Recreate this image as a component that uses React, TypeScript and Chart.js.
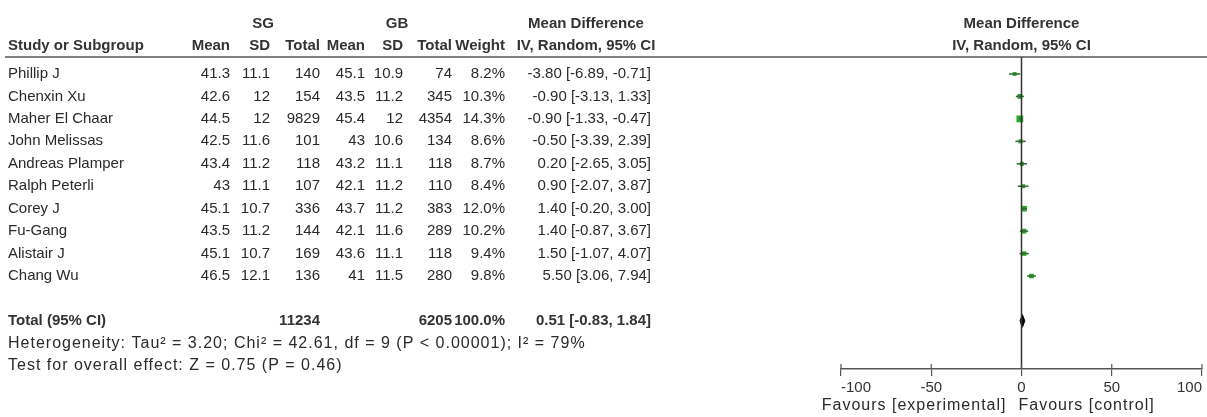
import React, { useEffect, useRef } from "react";
import { Chart, registerables } from "chart.js";

Chart.register(...registerables);

const studies = [
  "Phillip J",
  "Chenxin Xu",
  "Maher El Chaar",
  "John Melissas",
  "Andreas Plamper",
  "Ralph Peterli",
  "Corey J",
  "Fu-Gang",
  "Alistair J",
  "Chang Wu",
];
const sgMean = [41.3, 42.6, 44.5, 42.5, 43.4, 43, 45.1, 43.5, 45.1, 46.5];
const sgSD = [11.1, 12, 12, 11.6, 11.2, 11.1, 10.7, 11.2, 10.7, 12.1];
const sgTotal = [140, 154, 9829, 101, 118, 107, 336, 144, 169, 136];
const gbMean = [45.1, 43.5, 45.4, 43, 43.2, 42.1, 43.7, 42.1, 43.6, 41];
const gbSD = [10.9, 11.2, 12, 10.6, 11.1, 11.2, 11.2, 11.6, 11.1, 11.5];
const gbTotal = [74, 345, 4354, 134, 118, 110, 383, 289, 118, 280];
const weights = [8.2, 10.3, 14.3, 8.6, 8.7, 8.4, 12.0, 10.2, 9.4, 9.8];
const meanDiff = [-3.8, -0.9, -0.9, -0.5, 0.2, 0.9, 1.4, 1.4, 1.5, 5.5];
const ciLow = [-6.89, -3.13, -1.33, -3.39, -2.65, -2.07, -0.2, -0.87, -1.07, 3.06];
const ciHigh = [-0.71, 1.33, -0.47, 2.39, 3.05, 3.87, 3.0, 3.67, 4.07, 7.94];

const totalSG = 11234;
const totalGB = 6205;
const totalWeight = 100.0;
const totalMD = 0.51;
const totalLow = -0.83;
const totalHigh = 1.84;

const heterogeneityText =
  "Heterogeneity: Tau\u00B2 = 3.20; Chi\u00B2 = 42.61, df = 9 (P < 0.00001); I\u00B2 = 79%";
const overallText = "Test for overall effect: Z = 0.75 (P = 0.46)";
const favoursLeft = "Favours [experimental]";
const favoursRight = "Favours [control]";
const xTickValues = [-100, -50, 0, 50, 100];

const FONT = '"Liberation Sans", Arial, sans-serif';
const TEXT = "#2a2a2a";
const ROW_TOP = -0.757;
const ROW_BOTTOM = 13.14;
const TOTAL_ROW = 11;

const fmtCI = (m: number, l: number, h: number) =>
  `${m.toFixed(2)} [${l.toFixed(2)}, ${h.toFixed(2)}]`;

const tablePlugin = {
  id: "forestTable",
  afterDraw(chart: any) {
    const { ctx, chartArea } = chart;
    const ys = chart.scales.y;
    const xs = chart.scales.x;
    const rowY = (r: number) => ys.getPixelForValue(r);
    ctx.save();
    ctx.textBaseline = "middle";
    const put = (
      t: string,
      x: number,
      y: number,
      align: CanvasTextAlign,
      bold = false,
      size = 15,
      spacing = 0
    ) => {
      ctx.font = `${bold ? "bold " : ""}${size}px ${FONT}`;
      ctx.fillStyle = bold ? "#333" : TEXT;
      ctx.textAlign = align;
      (ctx as any).letterSpacing = `${spacing}px`;
      ctx.fillText(t, x, y);
      (ctx as any).letterSpacing = "0px";
    };

    // header line
    ctx.strokeStyle = "#555";
    ctx.lineWidth = 1.5;
    ctx.beginPath();
    ctx.moveTo(5, chartArea.top);
    ctx.lineTo(chart.width, chartArea.top);
    ctx.stroke();

    const cMean1 = 230, cSD1 = 270, cTot1 = 320, cMean2 = 365, cSD2 = 403, cTot2 = 452, cW = 505, cCI = 651, cHdr = 586;

    const h1 = rowY(-2.25);
    const h2 = rowY(-1.27);
    put("SG", 263, h1, "center", true);
    put("GB", 397, h1, "center", true);
    put("Mean Difference", cHdr, h1, "center", true);
    put("Mean Difference", xs.getPixelForValue(0), h1, "center", true);

    put("Study or Subgroup", 8, h2, "left", true);
    put("Mean", cMean1, h2, "right", true);
    put("SD", cSD1, h2, "right", true);
    put("Total", cTot1, h2, "right", true);
    put("Mean", cMean2, h2, "right", true);
    put("SD", cSD2, h2, "right", true);
    put("Total", cTot2, h2, "right", true);
    put("Weight", cW, h2, "right", true);
    put("IV, Random, 95% CI", cHdr, h2, "center", true);
    put("IV, Random, 95% CI", xs.getPixelForValue(0), h2, "center", true);

    studies.forEach((s, i) => {
      const y = rowY(i);
      put(s, 8, y, "left");
      put(String(sgMean[i]), cMean1, y, "right");
      put(String(sgSD[i]), cSD1, y, "right");
      put(String(sgTotal[i]), cTot1, y, "right");
      put(String(gbMean[i]), cMean2, y, "right");
      put(String(gbSD[i]), cSD2, y, "right");
      put(String(gbTotal[i]), cTot2, y, "right");
      put(weights[i].toFixed(1) + "%", cW, y, "right");
      put(fmtCI(meanDiff[i], ciLow[i], ciHigh[i]), cCI, y, "right");
    });

    const ty = rowY(TOTAL_ROW);
    put("Total (95% CI)", 8, ty, "left", true);
    put(String(totalSG), cTot1, ty, "right", true);
    put(String(totalGB), cTot2, ty, "right", true);
    put(totalWeight.toFixed(1) + "%", cW, ty, "right", true);
    put(fmtCI(totalMD, totalLow, totalHigh), cCI, ty, "right", true);
    put(heterogeneityText, 8, rowY(TOTAL_ROW + 1), "left", false, 16, 1.0);
    put(overallText, 8, rowY(TOTAL_ROW + 2), "left", false, 16, 1.0);

    // upper halves of axis ticks
    ctx.strokeStyle = "#555";
    ctx.lineWidth = 1.2;
    xs.ticks.forEach((t: any) => {
      const px = xs.getPixelForValue(t.value);
      ctx.beginPath();
      ctx.moveTo(px, chartArea.bottom - 5);
      ctx.lineTo(px, chartArea.bottom);
      ctx.stroke();
    });

    const zx = xs.getPixelForValue(0);
    put(favoursLeft, zx - 15, 406, "right", false, 16, 1.0);
    put(favoursRight, zx - 3, 406, "left", false, 16, 1.0);
    ctx.restore();
  },
};

export default function App() {
  const ref = useRef<HTMLCanvasElement | null>(null);
  useEffect(() => {
    if (!ref.current) return;
    const ciSets = studies.map((s, i) => ({
      type: "line" as const,
      label: s + " CI",
      data: [
        { x: ciLow[i], y: i },
        { x: ciHigh[i], y: i },
      ],
      borderColor: "#3a6a3a",
      borderWidth: 1.6,
      pointRadius: 0,
      showLine: true,
      fill: false,
    }));
    const chart = new Chart(ref.current, {
      type: "scatter",
      data: {
        datasets: [
          {
            type: "line",
            label: "zero",
            data: [
              { x: 0, y: ROW_TOP },
              { x: 0, y: ROW_BOTTOM },
            ],
            borderColor: "#333",
            borderWidth: 1.5,
            pointRadius: 0,
            showLine: true,
            fill: false,
          } as any,
          ...(ciSets as any[]),
          {
            type: "scatter",
            label: "studies",
            data: studies.map((_, i) => ({ x: meanDiff[i], y: i })),
            pointStyle: "rect",
            pointRadius: weights.map((w) => w / 3),
            backgroundColor: "#22a822",
            borderColor: "#22a822",
            borderWidth: 0,
          } as any,
          {
            type: "line",
            label: "total",
            data: [
              { x: totalLow, y: TOTAL_ROW },
              { x: totalMD, y: TOTAL_ROW - 0.28 },
              { x: totalHigh, y: TOTAL_ROW },
              { x: totalMD, y: TOTAL_ROW + 0.28 },
              { x: totalLow, y: TOTAL_ROW },
            ],
            borderColor: "#000",
            backgroundColor: "#000",
            borderWidth: 1,
            pointRadius: 0,
            showLine: true,
            fill: "shape",
          } as any,
        ],
      },
      options: {
        responsive: false,
        animation: false,
        events: [],
        layout: { padding: { left: 841, right: 5, top: 57, bottom: 17 } },
        plugins: { legend: { display: false }, tooltip: { enabled: false } },
        scales: {
          x: {
            type: "linear",
            min: -100,
            max: 100,
            afterBuildTicks: (scale: any) => {
              scale.ticks = xTickValues.map((v) => ({ value: v }));
            },
            ticks: {
              align: "inner",
              color: "#333",
              font: { size: 15, family: FONT },
              padding: 3,
              maxRotation: 0,
            },
            grid: {
              drawOnChartArea: false,
              drawTicks: true,
              tickLength: 7,
              color: "#555",
              lineWidth: 1.2,
            },
            border: { display: true, color: "#555", width: 1.5 },
          },
          y: {
            type: "linear",
            reverse: true,
            min: ROW_TOP,
            max: ROW_BOTTOM,
            display: false,
          },
        },
      } as any,
      plugins: [tablePlugin],
    });
    return () => chart.destroy();
  }, []);
  return (
    <div style={{ position: "fixed", left: 0, top: 0, width: 1207, height: 417, background: "#fff" }}>
      <canvas ref={ref} width={1207} height={417} style={{ display: "block" }} />
    </div>
  );
}
